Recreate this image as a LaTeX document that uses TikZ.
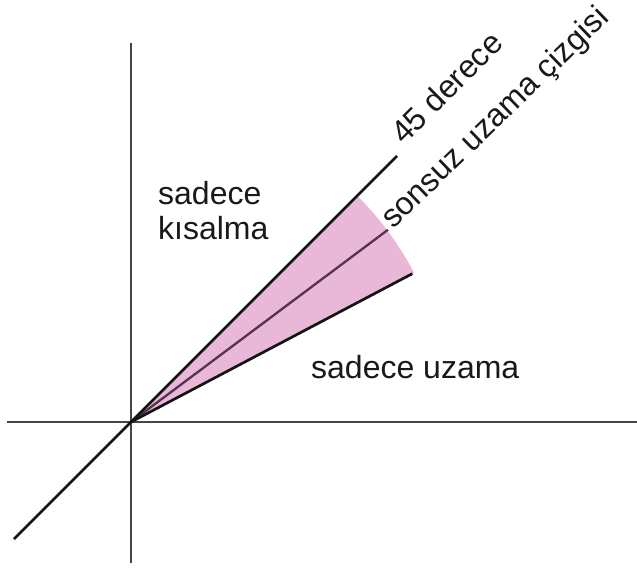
\documentclass[tikz,border=0pt]{standalone}
\usepackage{fontspec}
\setmainfont{Liberation Sans}
\definecolor{axisgray}{RGB}{70,70,70}
\definecolor{diagline}{RGB}{20,20,20}
\definecolor{wedgepink}{RGB}{233,184,217}
\definecolor{midline}{RGB}{85,50,80}
\definecolor{txt}{RGB}{25,25,25}
\begin{document}
\begin{tikzpicture}[x=1pt,y=1pt,
  axis/.style={line width=2.9pt, draw=axisgray},
  diag/.style={line width=2.7pt, draw=diagline},
  midl/.style={line width=2.3pt, draw=midline},
  wedge/.style={fill=wedgepink},
  lbl/.style={font=\fontsize{32}{36}\selectfont, inner sep=0pt, text=txt}]
\useasboundingbox (-131,-154) rectangle (506,422);
\coordinate (O) at (0,0);
\coordinate (xL) at (-124,0);
\coordinate (xR) at (506,0);
\coordinate (yT) at (0,379);
\coordinate (yB) at (0,-141);
\coordinate (dL) at (-117,-117);
\coordinate (dU) at (266,266);
\coordinate (lowEnd) at (27.8:318);
\coordinate (midEnd) at (36.8:321);
% pink wedge
\fill[wedge] (O) -- (27.8:320) arc[start angle=27.8, end angle=45, radius=320] -- cycle;
% axes
\draw[axis] (xL) -- (xR);
\draw[axis] (yB) -- (yT);
% lines from origin
\draw[midl] (O) -- (midEnd);
\draw[diag] (O) -- (lowEnd);
\draw[diag] (dL) -- (dU);
% labels
\node[lbl, anchor=base west] (kis1) at (27,217) {sadece};
\node[lbl, anchor=base west] (kis2) at (27,182) {kısalma};
\node[lbl, anchor=base west] (uz) at (180,44) {sadece uzama};
\node[lbl, anchor=base west, rotate=45] (deg) at (273,276) {45 derece};
\node[lbl, anchor=base west, rotate=44] (inf) at (262,192) {sonsuz uzama çizgisi};
\end{tikzpicture}
\end{document}
